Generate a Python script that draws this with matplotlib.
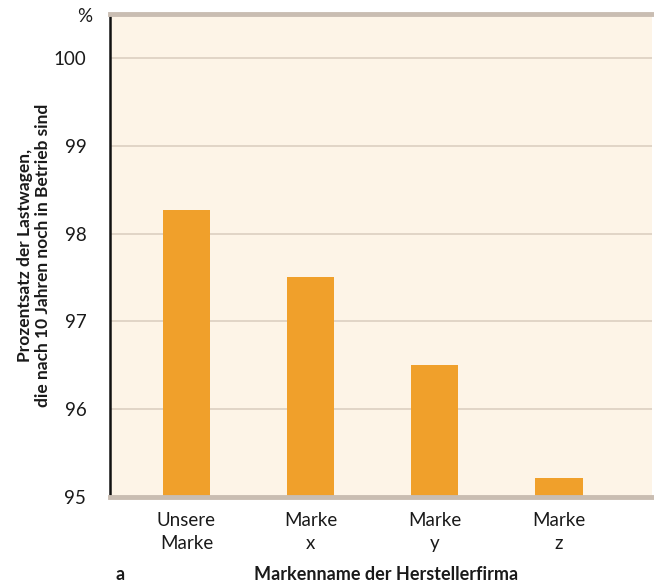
import matplotlib
matplotlib.use("Agg")
import matplotlib.pyplot as plt

brands = ["Unsere\nMarke", "Marke\nx", "Marke\ny", "Marke\nz"]
still_running_pct = [98.27, 97.51, 96.50, 95.22]
y_ticks = [95, 96, 97, 98, 99, 100]

plt.rcParams["font.family"] = ["Lato", "DejaVu Sans"]

fig = plt.figure(figsize=(6.54, 5.84), dpi=100)
ax = fig.add_axes([0.168, 0.149, 0.829, 0.827])
ax.set_facecolor("#FDF4E7")

x = list(range(len(brands)))
ax.bar(x, still_running_pct, width=0.38, bottom=0, color="#F0A02B", zorder=3)

ax.set_ylim(95, 100.5)
ax.set_xlim(-0.617, 3.75)
ax.set_yticks(y_ticks)
ax.set_yticklabels([str(t) for t in y_ticks], fontsize=13.5, color="#1a1a1a")
ax.set_xticks(x)
ax.set_xticklabels(brands, fontsize=13.5, color="#1a1a1a", linespacing=1.4)
ax.tick_params(axis="y", length=0, pad=17)
ax.tick_params(axis="x", length=0, pad=11)

ax.grid(axis="y", color="#DCCFC1", linewidth=1.2, zorder=1)
ax.set_axisbelow(True)

for side in ("top", "bottom"):
    ax.spines[side].set_color("#C9BDB2")
    ax.spines[side].set_linewidth(3.5)
    ax.spines[side].set_zorder(4)
ax.spines["right"].set_visible(False)
ax.spines["left"].set_color("#111111")
ax.spines["left"].set_linewidth(1.8)

ax.set_ylabel("Prozentsatz der Lastwagen,\ndie nach 10 Jahren noch in Betrieb sind",
              fontsize=12.5, fontweight="bold", color="#1a1a1a",
              linespacing=1.2)
ax.yaxis.set_label_coords(-0.108, 0.5)

fig.text(85 / 654, 1 - 17 / 584, "%", fontsize=13.5, ha="center", va="center",
         color="#1a1a1a")
fig.text(120 / 654, 1 - 574 / 584, "a", fontsize=13, fontweight="bold",
         ha="center", va="center", color="#1a1a1a")
fig.text(386 / 654, 1 - 574 / 584, "Markenname der Herstellerfirma",
         fontsize=13, fontweight="bold", ha="center", va="center",
         color="#1a1a1a")

fig.savefig("out.png", dpi=100, facecolor="white")
